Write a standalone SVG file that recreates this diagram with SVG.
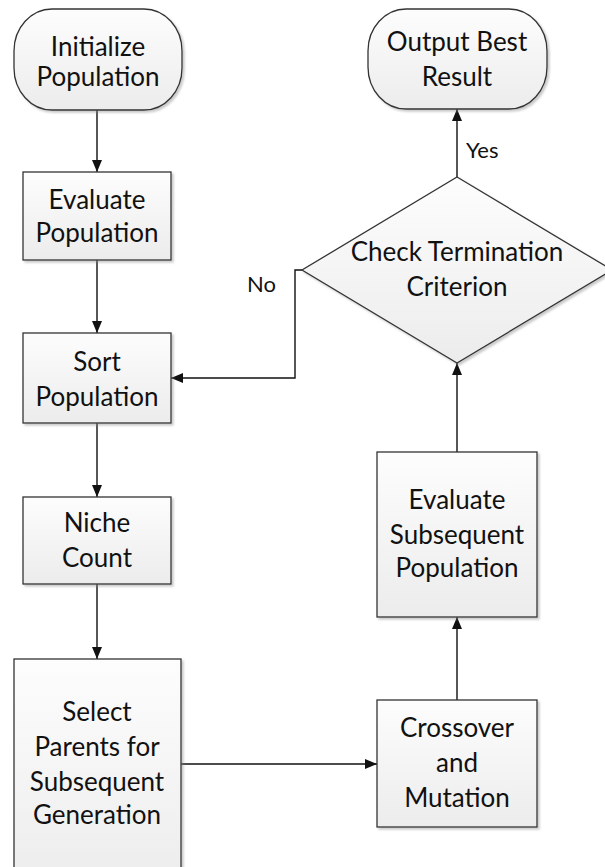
<svg xmlns="http://www.w3.org/2000/svg" width="605" height="867" viewBox="0 0 605 867">
  <defs>
    <linearGradient id="fillGrad" x1="0" y1="0" x2="0" y2="1">
      <stop offset="0" stop-color="#fdfdfd"/>
      <stop offset="1" stop-color="#ececec"/>
    </linearGradient>
    <filter id="shadow" x="-10%" y="-10%" width="130%" height="130%">
      <feDropShadow dx="2" dy="2" stdDeviation="1.2" flood-color="#888" flood-opacity="0.45"/>
    </filter>
    <marker id="arrow" viewBox="0 0 12 10" refX="12" refY="5" markerWidth="12" markerHeight="10" markerUnits="userSpaceOnUse" orient="auto">
      <path d="M0,0 L12,5 L0,10 z" fill="#111"/>
    </marker>
  </defs>
  <style>
    .shape { fill: url(#fillGrad); stroke: #333; stroke-width: 1.3; filter: url(#shadow); }
    .label { font-family: Lato, "Open Sans", "Liberation Sans", sans-serif; font-size: 26px; fill: #111; text-anchor: middle; }
    .small { font-family: Lato, "Open Sans", "Liberation Sans", sans-serif; font-size: 22px; fill: #111; }
    .conn { fill: none; stroke: #111; stroke-width: 1.4; marker-end: url(#arrow); }
  </style>
  <rect width="605" height="867" fill="#ffffff"/>

  <g id="connectors">
    <line class="conn" x1="97" y1="110" x2="97" y2="172"/>
    <line class="conn" x1="97" y1="260" x2="97" y2="333"/>
    <line class="conn" x1="97" y1="423" x2="97" y2="497"/>
    <line class="conn" x1="97" y1="584" x2="97" y2="659"/>
    <line class="conn" x1="181" y1="764" x2="377" y2="764"/>
    <line class="conn" x1="457" y1="700" x2="457" y2="617"/>
    <line class="conn" x1="457" y1="452" x2="457" y2="363"/>
    <line class="conn" x1="457" y1="177" x2="457" y2="109"/>
    <polyline class="conn" points="302,270 295,270 295,378 171,378"/>
    <text class="small" x="466" y="158">Yes</text>
    <text class="small" x="247" y="292">No</text>
  </g>

  <g id="initialize">
    <rect class="shape" x="14" y="9" width="168" height="101" rx="38" ry="42"/>
    <text class="label" x="98" y="56">Initialize</text>
    <text class="label" x="98" y="86">Population</text>
  </g>

  <g id="evaluate">
    <rect class="shape" x="23" y="172" width="148" height="88"/>
    <text class="label" x="97" y="209">Evaluate</text>
    <text class="label" x="97" y="242">Population</text>
  </g>

  <g id="sort">
    <rect class="shape" x="23" y="333" width="148" height="90"/>
    <text class="label" x="97" y="371">Sort</text>
    <text class="label" x="97" y="406">Population</text>
  </g>

  <g id="niche">
    <rect class="shape" x="23" y="497" width="148" height="87"/>
    <text class="label" x="97" y="532">Niche</text>
    <text class="label" x="97" y="567">Count</text>
  </g>

  <g id="select">
    <rect class="shape" x="14" y="659" width="167" height="230"/>
    <text class="label" x="97" y="721">Select</text>
    <text class="label" x="97" y="756">Parents for</text>
    <text class="label" x="97" y="791">Subsequent</text>
    <text class="label" x="97" y="824">Generation</text>
  </g>

  <g id="crossover">
    <rect class="shape" x="377" y="700" width="160" height="127"/>
    <text class="label" x="457" y="737">Crossover</text>
    <text class="label" x="457" y="772">and</text>
    <text class="label" x="457" y="807">Mutation</text>
  </g>

  <g id="evalsub">
    <rect class="shape" x="377" y="452" width="160" height="165"/>
    <text class="label" x="457" y="509">Evaluate</text>
    <text class="label" x="457" y="544">Subsequent</text>
    <text class="label" x="457" y="577">Population</text>
  </g>

  <g id="check">
    <polygon class="shape" points="457,177 612,270 457,363 302,270"/>
    <text class="label" x="457" y="261">Check Termination</text>
    <text class="label" x="457" y="296">Criterion</text>
  </g>

  <g id="output">
    <rect class="shape" x="368" y="9" width="179" height="100" rx="38" ry="42"/>
    <text class="label" x="457" y="51">Output Best</text>
    <text class="label" x="457" y="86">Result</text>
  </g>
</svg>
